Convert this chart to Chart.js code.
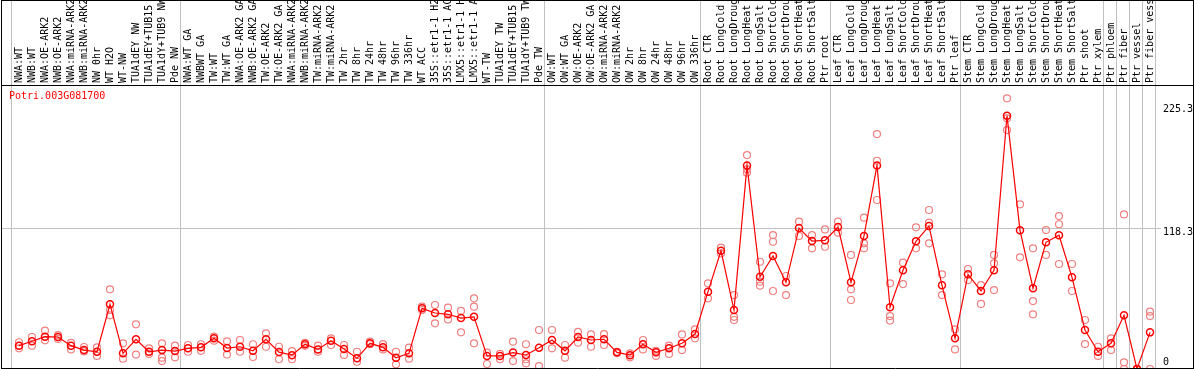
<!DOCTYPE html>
<html><head><meta charset="utf-8">
<script src="https://cdn.jsdelivr.net/npm/chart.js@4.4.1/dist/chart.umd.min.js"></script>
<style>html,body{margin:0;padding:0;background:#fff;}canvas{display:block;}</style>
</head><body>
<canvas id="c" width="1194" height="370"></canvas>
<script>
const geneId = 'Potri.003G081700';

const categories = [
  'NWA:WT','NWB:WT','NWA:OE-ARK2','NWB:OE-ARK2','NWA:miRNA-ARK2','NWB:miRNA-ARK2','NW 0hr','WT H2O','WT-NW',
  'TUA1dEY NW','TUA1dEY+TUB15 NW','TUA1dY+TUB9 NW','Pde NW',
  'NWA:WT GA','NWBWT GA','TW:WT','TW:WT GA','NWA:OE-ARK2 GA','NWB:OE-ARK2 GA','TW:OE-ARK2','TW:OE-ARK2 GA',
  'NWA:miRNA-ARK2 GA','NWB:miRNA-ARK2 GA','TW:miRNA-ARK2','TW:miRNA-ARK2 GA',
  'TW 2hr','TW 8hr','TW 24hr','TW 48hr','TW 96hr','TW 336hr','WT ACC',
  '35S::etr1-1 H2O','35S::etr1-1 ACC','LMX5::etr1-1 H2O','LMX5::etr1-1 ACC',
  'WT-TW','TUA1dEY TW','TUA1dEY+TUB15 TW','TUA1dY+TUB9 TW','Pde TW',
  'OW:WT','OW:WT GA','OW:OE-ARK2','OW:OE-ARK2 GA','OW:miRNA-ARK2','OW:miRNA-ARK2 GA',
  'OW 2hr','OW 8hr','OW 24hr','OW 48hr','OW 96hr','OW 336hr',
  'Root CTR','Root LongCold','Root LongDrought','Root LongHeat','Root LongSalt',
  'Root ShortCold','Root ShortDrought','Root ShortHeat','Root ShortSalt','Ptr root',
  'Leaf CTR','Leaf LongCold','Leaf LongDrought','Leaf LongHeat','Leaf LongSalt',
  'Leaf ShortCold','Leaf ShortDrought','Leaf ShortHeat','Leaf ShortSalt','Ptr leaf',
  'Stem CTR','Stem LongCold','Stem LongDrought','Stem LongHeat','Stem LongSalt',
  'Stem ShortCold','Stem ShortDrought','Stem ShortHeat','Stem ShortSalt','Ptr shoot','Ptr xylem',
  'Ptr phloem','Ptr fiber','Ptr vessel','Ptr fiber vessel'
];

const means = [
  19.6, 23.3, 27.2, 26.9, 19.6, 15.9, 14.5, 54.4, 13.2, 25.0,
  14.5, 15.9, 15.1, 17.4, 18.2, 25.8, 17.6, 18.7, 15.3, 25.0,
  14.2, 11.6, 20.8, 16.5, 23.8, 16.8, 9.0, 21.6, 18.2, 9.5,
  13.2, 51.0, 47.1, 46.0, 42.8, 43.9, 11.0, 11.0, 13.8, 11.8,
  17.9, 24.4, 15.3, 26.9, 24.4, 25.0, 14.0, 11.6, 20.8, 14.0,
  17.4, 21.6, 29.4, 65.0, 99.4, 49.6, 171.2, 77.6, 95.0, 72.9,
  118.5, 107.6, 108.2, 119.4, 72.9, 111.9, 171.2, 51.9, 83.0, 107.4,
  120.2, 70.4, 25.8, 79.6, 65.6, 83.0, 213.0, 116.6, 67.9, 106.5,
  112.5, 77.1, 32.8, 14.5, 21.6, 45.1, 0, 30.8
];

const replicates = [
  [22.5, 17.4], [26.9, 19.6], [32.2, 24.1], [28.5, 25.3], [21.9, 16.5],
  [18.5, 14.8], [18.2, 11.0], [67.0, 49.6, 45.1], [21.6, 8.7], [37.6, 12.1],
  [17.4, 12.7], [21.6, 9.5, 6.7], [19.6, 9.8], [20.2, 14.5], [20.8, 15.3],
  [27.2, 23.8], [23.3, 12.1], [24.4, 14.5], [20.8, 10.1], [30.0, 18.7],
  [18.7, 8.2], [15.1, 8.2], [22.0, 19.5], [19.6, 14.5], [25.8, 20.2],
  [20.2, 11.8], [14.5, 6.1], [23.0, 20.8], [21.0, 16.5], [14.5, 3.9],
  [17.9, 8.7], [52.4, 49.6], [53.8, 38.4], [51.6, 41.7], [48.8, 30.8],
  [59.4, 52.4, 21.6], [13.8, 4.2], [12.7, 8.2], [23.0, 6.7], [20.8, 8.2, 4.8],
  [32.8, 2.5], [32.8, 17.4], [20.2, 9.5], [31.3, 22.1], [29.1, 18.7],
  [29.4, 20.2], [14.5, 13.2], [13.2, 9.8], [24.4, 16.5], [15.3, 11.0],
  [19.6, 12.7], [29.1, 15.9], [33.4, 25.8], [72.0, 59.4], [102.0, 97.2],
  [62.2, 43.9, 41.2], [179.9, 167.9, 165.1], [90.2, 73.4, 70.1], [112.6, 107.0, 65.6], [78.2, 62.2],
  [123.9, 111.9], [112.6, 101.5], [117.4, 102.8], [123.9, 114.6], [95.9, 67.0, 58.0],
  [127.2, 105.7, 101.5], [197.5, 175.1, 142.1], [72.0, 44.5, 40.7], [89.4, 71.4], [119.1, 101.5],
  [133.7, 123.0, 105.7], [79.6, 62.2], [33.4, 16.5], [84.1, 74.8], [70.6, 54.7],
  [95.9, 88.9, 66.4], [227.6, 210.8, 200.9], [138.5, 93.9], [101.5, 57.1, 46.0], [116.8, 95.9],
  [128.6, 121.7, 88.3], [88.3, 65.6], [41.2, 21.0], [18.7, 11.0], [25.8, 15.9],
  [130.0, 5.6, 0], [0, 0, 0], [48.2, 44.5, 0]
];

// index of the first category in each group (last entry = end)
const groupStarts = [0, 13, 41, 53, 63, 73, 84, 85, 86, 87, 88];
const yTickValues = [0, 118.3, 225.3];
const yMax = 238.8;

const MONO = "'DejaVu Sans Mono', 'Liberation Mono', monospace";
const RED = '#ff0000';
const PINK = '#f08080';
const GRID = '#c0c0c0';

const meanPoints = means.map((v, i) => ({x: i, y: v}));
const repPoints = [];
replicates.forEach((arr, i) => arr.forEach(v => repPoints.push({x: i, y: v})));

const xMin = -1.3077, xMax = 87.846;

const noPad = s => { s.paddingLeft = 0; s.paddingRight = 0; s.paddingTop = 0; s.paddingBottom = 0; };

const framePlugin = {
  id: 'frame',
  afterDraw(chart) {
    const {ctx, chartArea} = chart;
    ctx.save();
    ctx.strokeStyle = '#000';
    ctx.lineWidth = 1;
    const l = chartArea.left - 0.5, r = chart.width - 0.5;
    const t = 0.5, b = chartArea.bottom - 0.5, d = chartArea.top + 0.5;
    ctx.beginPath();
    ctx.moveTo(l, t); ctx.lineTo(r, t);
    ctx.moveTo(l, d); ctx.lineTo(r, d);
    ctx.moveTo(l, b); ctx.lineTo(r, b);
    ctx.moveTo(l, 0); ctx.lineTo(l, b + 0.5);
    ctx.moveTo(r, 0); ctx.lineTo(r, b + 0.5);
    ctx.stroke();
    ctx.fillStyle = RED;
    ctx.font = '10px ' + MONO;
    ctx.textBaseline = 'alphabetic';
    ctx.textAlign = 'left';
    ctx.fillText(geneId, chartArea.left + 7, chartArea.top + 14);
    ctx.restore();
  }
};

new Chart(document.getElementById('c'), {
  data: {
    datasets: [
      {
        type: 'line', data: meanPoints, xAxisID: 'x', yAxisID: 'y',
        borderColor: RED, borderWidth: 1.2, tension: 0,
        pointRadius: 3.5, pointBorderWidth: 1.5, pointBorderColor: RED,
        pointBackgroundColor: 'rgba(0,0,0,0)', pointStyle: 'circle'
      },
      {
        type: 'scatter', data: repPoints, xAxisID: 'x', yAxisID: 'y',
        showLine: false, pointRadius: 3.5, pointBorderWidth: 1.2,
        pointBorderColor: PINK, pointBackgroundColor: 'rgba(0,0,0,0)', pointStyle: 'circle'
      }
    ]
  },
  options: {
    responsive: false, animation: false, devicePixelRatio: 1,
    layout: {autoPadding: false, padding: {left: 2, right: 0, top: 0, bottom: 1}},
    plugins: {legend: {display: false}, tooltip: {enabled: false}},
    scales: {
      x: {
        type: 'linear', position: 'top', min: xMin, max: xMax, weight: 1,
        afterBuildTicks: s => { s.ticks = categories.map((_, i) => ({value: i})); },
        afterFit: s => { s.height = 85; noPad(s); },
        grid: {display: false, drawTicks: false},
        border: {display: false},
        ticks: {
          autoSkip: false, minRotation: 90, maxRotation: 90, padding: 2, labelOffset: 12,
          color: '#000', font: {family: MONO, size: 10},
          callback: v => categories[Math.round(v)]
        }
      },
      xg: {
        type: 'linear', position: 'top', min: xMin, max: xMax, weight: 0,
        afterBuildTicks: s => { s.ticks = groupStarts.map(k => ({value: k - 0.6})); },
        afterFit: s => { s.height = 0; noPad(s); },
        grid: {display: true, color: GRID, lineWidth: 1, drawTicks: true, tickLength: 85, drawOnChartArea: true},
        border: {display: false},
        ticks: {display: false}
      },
      y: {
        type: 'linear', position: 'right', min: 0, max: yMax,
        afterBuildTicks: s => { s.ticks = yTickValues.map(v => ({value: v})); },
        afterFit: s => { s.width = 33; noPad(s); },
        grid: {
          color: c => (c.tick && c.tick.value === yTickValues[1]) ? GRID : 'rgba(0,0,0,0)',
          drawTicks: false, lineWidth: 1
        },
        border: {display: false},
        ticks: {
          padding: 2, color: '#000',
          font: c => {
            const v = c.tick ? c.tick.value : 0;
            const lh = v === 0 ? 14 : (v === yTickValues[1] ? 8 : 16.4);
            return {family: MONO, size: 10, lineHeight: lh + 'px'};
          },
          callback: v => v === 0 ? ['0', ''] : ['', String(v)]
        }
      }
    }
  },
  plugins: [framePlugin]
});
</script>
</body></html>
